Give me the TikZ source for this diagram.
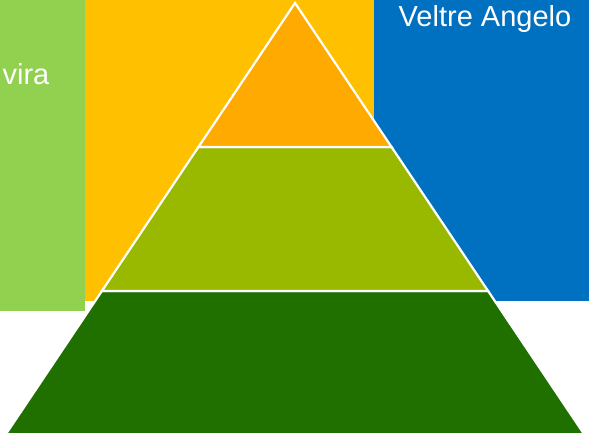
\documentclass[tikz,border=0pt]{standalone}
\usepackage{fontspec}
\setmainfont{Liberation Sans}
\usepackage{tikz}
\usetikzlibrary{positioning, calc}
\definecolor{panelgreen}{HTML}{92D050}
\definecolor{panelgold}{HTML}{FFC000}
\definecolor{panelblue}{HTML}{0070C0}
\definecolor{tiertop}{HTML}{FFAA00}
\definecolor{tiermid}{HTML}{99B800}
\definecolor{tierbase}{HTML}{207000}
\tikzset{
  tier/.style={draw=white, line width=2.2pt, line join=miter},
  panellabel/.style={text=white, font=\fontsize{29}{34}\selectfont, inner sep=0pt, anchor=base}
}

\begin{document}
\begin{tikzpicture}[x=1pt, y=1pt]
        \useasboundingbox (0,0) rectangle (589,432);
        % Background panels
        \fill[panelgreen] (0,121) rectangle (85,432);
        \fill[panelgold] (85,131) rectangle (374,432);
        \fill[panelblue] (374,131) rectangle (589,432);
        \node[panellabel] (leftname) at (26,347) {vira};
        \node[panellabel] (rightname) at (485,405) {Veltre Angelo};
        % Pyramid corners
        \coordinate (apex) at (295,429);
        \coordinate (bl) at (4,-5);
        \coordinate (br) at (586,-5);
        \coordinate (l1) at ($(apex)!0.3318!(bl)$);
        \coordinate (r1) at ($(apex)!0.3318!(br)$);
        \coordinate (l2) at ($(apex)!0.6636!(bl)$);
        \coordinate (r2) at ($(apex)!0.6636!(br)$);
        % Tiers
        \filldraw[tier, fill=tierbase] (l2) -- (r2) -- (br) -- (bl) -- cycle;
        \filldraw[tier, fill=tiermid] (l1) -- (r1) -- (r2) -- (l2) -- cycle;
        \filldraw[tier, fill=tiertop] (apex) -- (r1) -- (l1) -- cycle;
      \end{tikzpicture}
\end{document}
